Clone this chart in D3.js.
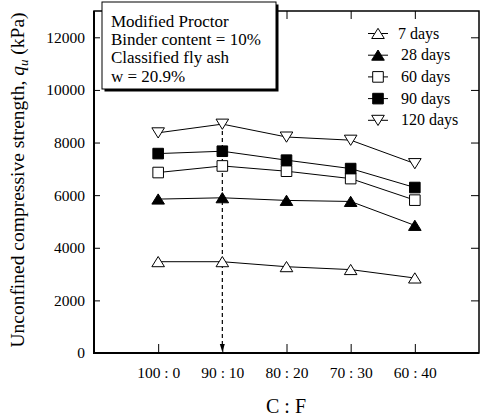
<!DOCTYPE html>
<html>
<head>
<meta charset="utf-8">
<script src="https://cdn.jsdelivr.net/npm/d3@7"></script>
<style>
  body { margin: 0; background: #fff; }
  svg { display: block; }
</style>
</head>
<body>
<svg id="chart" width="480" height="417" font-family="'Liberation Serif', 'Times New Roman', serif"></svg>
<script>
// data
const ratios = ["100 : 0", "90 : 10", "80 : 20", "70 : 30", "60 : 40"];
const days7 = [3470, 3470, 3280, 3170, 2850];
const days28 = [5850, 5900, 5800, 5760, 4850];
const days60 = [6860, 7110, 6910, 6630, 5810];
const days90 = [7580, 7670, 7330, 7010, 6290];
const days120 = [8370, 8700, 8210, 8090, 7200];
const seriesNames = ["7 days", "28 days", "60 days", "90 days", "120 days"];
const yTicks = [0, 2000, 4000, 6000, 8000, 10000, 12000];
const noteLines = ["Modified Proctor", "Binder content = 10%", "Classified fly ash", "w = 20.9%"];

const series = [
  {name: seriesNames[0], values: days7, shape: "up", fill: "#fff"},
  {name: seriesNames[1], values: days28, shape: "up", fill: "#000"},
  {name: seriesNames[2], values: days60, shape: "sq", fill: "#fff"},
  {name: seriesNames[3], values: days90, shape: "sq", fill: "#000"},
  {name: seriesNames[4], values: days120, shape: "down", fill: "#fff"}
];

const svg = d3.select("#chart");
const pLeft = 94, pRight = 479, pTop = 11, pBottom = 353;

const x = d3.scaleLinear().domain([0, ratios.length + 1]).range([pLeft, pRight]);
const y = d3.scaleLinear().domain([0, 13000]).range([pBottom, pTop]);

// marker paths, centred on 0,0
function markerPath(shape) {
  if (shape == "up") return "M0,-5.2L6.3,5L-6.3,5Z";
  if (shape == "down") return "M0,5.2L6.3,-5L-6.3,-5Z";
  return "M-5.3,-5.3H5.3V5.3H-5.3Z";
}

// axes
const idx = ratios.map((d, i) => i + 1);

svg.append("g")
  .attr("transform", `translate(${pLeft},0)`)
  .call(d3.axisLeft(y).tickValues(yTicks).tickSize(-6).tickPadding(9).tickFormat(d3.format("d")))
  .attr("font-family", null).attr("font-size", 15.5)
  .call(g => g.select(".domain").remove());

svg.append("g")
  .attr("transform", `translate(${pRight},0)`)
  .call(d3.axisRight(y).tickValues(yTicks.slice(1)).tickSize(-8).tickFormat(""))
  .call(g => g.select(".domain").remove());

svg.append("g")
  .attr("transform", `translate(0,${pBottom})`)
  .call(d3.axisBottom(x).tickValues(idx).tickSize(-9).tickPadding(14).tickFormat((d, i) => ratios[i]))
  .attr("font-family", null).attr("font-size", 15.5)
  .call(g => g.select(".domain").remove());

svg.append("g")
  .attr("transform", `translate(0,${pTop})`)
  .call(d3.axisTop(x).tickValues(idx).tickSize(-8).tickFormat(""))
  .call(g => g.select(".domain").remove());

// frame
svg.append("rect")
  .attr("x", pLeft).attr("y", pTop)
  .attr("width", pRight - pLeft).attr("height", pBottom - pTop)
  .attr("fill", "none").attr("stroke", "#000").attr("stroke-width", 1.5);
svg.append("path")
  .attr("d", `M${pLeft},${pTop}V${pBottom}H${pRight}`)
  .attr("fill", "none").attr("stroke", "#000").attr("stroke-width", 2);

// dashed arrow at 90 : 10
const ax = x(2);
svg.append("line")
  .attr("x1", ax).attr("x2", ax)
  .attr("y1", y(days120[1])).attr("y2", pBottom - 6)
  .attr("stroke", "#000").attr("stroke-width", 1.2)
  .attr("stroke-dasharray", "4,3");
svg.append("path")
  .attr("d", `M${ax - 2.5},${pBottom - 9}L${ax + 2.5},${pBottom - 9}L${ax},${pBottom - 1}Z`)
  .attr("fill", "#000");

// lines
const line = d3.line().x((d, i) => x(i + 1)).y(d => y(d));
svg.append("g").selectAll("path")
  .data(series)
  .join("path")
  .attr("d", d => line(d.values))
  .attr("fill", "none").attr("stroke", "#000").attr("stroke-width", 1);

// markers
series.forEach(s => {
  svg.append("g").selectAll("path")
    .data(s.values)
    .join("path")
    .attr("transform", (d, i) => `translate(${x(i + 1)},${y(d)})`)
    .attr("d", markerPath(s.shape))
    .attr("fill", s.fill).attr("stroke", "#000").attr("stroke-width", 1);
});

// legend
const legend = svg.append("g").attr("font-size", 16);
series.forEach((s, i) => {
  const ly = 33.5 + i * 21.7;
  legend.append("line")
    .attr("x1", 368).attr("x2", 388).attr("y1", ly).attr("y2", ly)
    .attr("stroke", "#000").attr("stroke-width", 1);
  legend.append("path")
    .attr("transform", `translate(378,${ly})`)
    .attr("d", markerPath(s.shape))
    .attr("fill", s.fill).attr("stroke", "#000");
  legend.append("text")
    .attr("x", i == 0 ? 398 : 401).attr("y", ly).attr("dy", "0.32em")
    .text(s.name);
});

// note box
svg.append("rect").attr("x", 104.5).attr("y", 4.5).attr("width", 174).attr("height", 87).attr("fill", "#000");
svg.append("rect").attr("x", 102).attr("y", 2).attr("width", 174).attr("height", 87)
  .attr("fill", "#fff").attr("stroke", "#000").attr("stroke-width", 1);
svg.append("g").attr("font-size", 17)
  .selectAll("text")
  .data(noteLines)
  .join("text")
  .attr("x", 111).attr("y", (d, i) => 27 + i * 18.2)
  .text(d => d);

// axis titles
svg.append("text")
  .attr("x", 286).attr("y", 413)
  .attr("text-anchor", "middle").attr("font-size", 20)
  .text("C : F");

const yl = svg.append("text")
  .attr("transform", "translate(23.5,180) rotate(-90)")
  .attr("text-anchor", "middle").attr("font-size", 19.5);
yl.append("tspan").text("Unconfined compressive strength, ");
yl.append("tspan").attr("font-style", "italic").text("q");
yl.append("tspan").attr("font-style", "italic").attr("font-size", 13).attr("dy", 4).text("u");
yl.append("tspan").attr("dy", -4).text(" (kPa)");
</script>
</body>
</html>
